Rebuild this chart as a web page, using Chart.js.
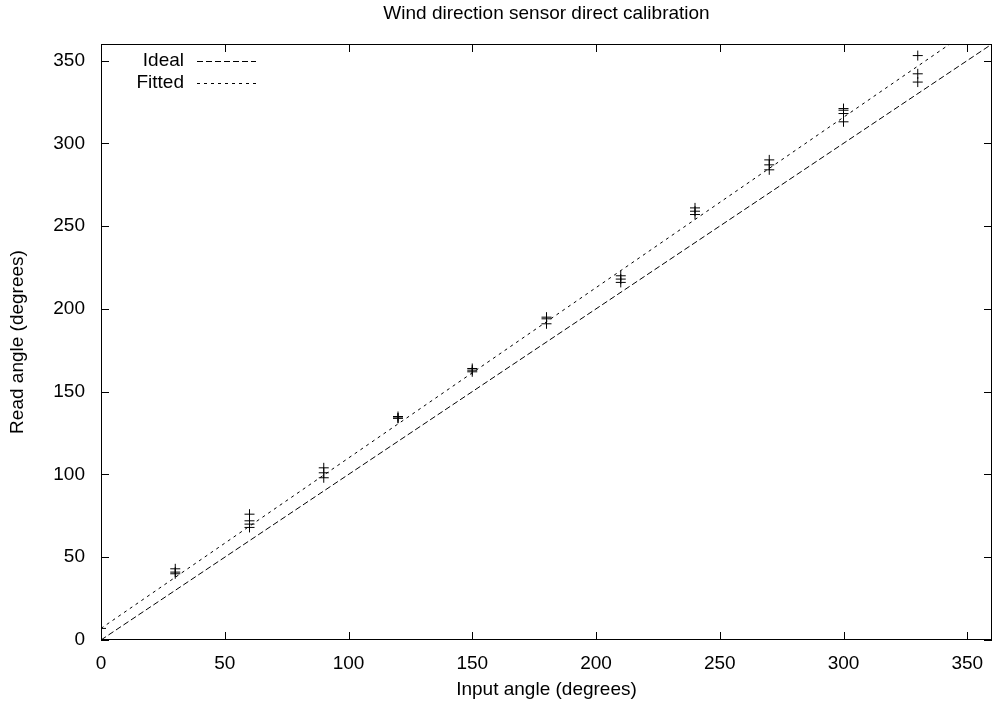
<!DOCTYPE html>
<html>
<head>
<meta charset="utf-8">
<title>Wind direction sensor direct calibration</title>
<script src="https://cdn.jsdelivr.net/npm/chart.js@4.4.0/dist/chart.umd.min.js"></script>
<style>
    html, body { margin: 0; padding: 0; background: #fff; }
    #wrap { width: 993px; height: 704px; }
</style>
</head>
<body>
<div id="wrap"><canvas id="calChart" width="993" height="704"></canvas></div>
<script>
// data
const inputAngles = [0, 30, 60, 90, 120, 150, 180, 210, 240, 270, 300, 330];
const readAngles = [
    [7],
    [43, 41, 40],
    [76, 72, 70, 68],
    [104, 101, 98],
    [135, 134, 134],
    [163, 162, 164],
    [195, 194, 191],
    [220, 218, 216],
    [261, 259, 257],
    [290, 287, 284],
    [321, 320, 318, 313],
    [353, 342, 337]
];
const idealX = [0, 360];
const idealY = [0, 360];
const fittedX = [0, 343];
const fittedY = [7, 360];
const tickValues = [0, 50, 100, 150, 200, 250, 300, 350];

const FONT = "'Liberation Sans', Arial, Helvetica, sans-serif";
const FONT_SIZE = 19;

// flatten the readings into points
let readings = [];
inputAngles.forEach((x, i) => {
    readAngles[i].forEach(y => readings.push({ x: x, y: y }));
});

function pairs(xs, ys) {
    return xs.map((x, i) => ({ x: x, y: ys[i] }));
}

// gnuplot style frame, inward ticks, titles and legend
const gnuplotFrame = {
    id: 'gnuplotFrame',
    afterDraw(chart) {
        const ctx = chart.ctx;
        const a = chart.chartArea;
        const xs = chart.scales.x;
        const ys = chart.scales.y;
        const len = 8;

        ctx.save();
        ctx.strokeStyle = '#000';
        ctx.lineWidth = 1;
        ctx.setLineDash([]);
        ctx.strokeRect(Math.round(a.left) + 0.5, Math.round(a.top) + 0.5,
            Math.round(a.right - a.left) - 1, Math.round(a.bottom - a.top) - 1);

        ctx.beginPath();
        tickValues.forEach(v => {
            const px = Math.round(xs.getPixelForValue(v)) + 0.5;
            ctx.moveTo(px, a.bottom);
            ctx.lineTo(px, a.bottom - len);
            ctx.moveTo(px, a.top);
            ctx.lineTo(px, a.top + len);
            const py = Math.round(ys.getPixelForValue(v)) + 0.5;
            ctx.moveTo(a.left, py);
            ctx.lineTo(a.left + len, py);
            ctx.moveTo(a.right, py);
            ctx.lineTo(a.right - len, py);
        });
        ctx.stroke();

        // titles
        ctx.fillStyle = '#000';
        ctx.font = FONT_SIZE + 'px ' + FONT;
        ctx.textAlign = 'center';
        ctx.textBaseline = 'middle';
        const cx = (a.left + a.right) / 2;
        ctx.fillText('Wind direction sensor direct calibration', cx, 14);
        ctx.fillText('Input angle (degrees)', cx, 690);
        ctx.save();
        ctx.translate(18, (a.top + a.bottom) / 2);
        ctx.rotate(-Math.PI / 2);
        ctx.fillText('Read angle (degrees)', 0, 0);
        ctx.restore();

        // legend
        const items = chart.data.datasets.filter(d => d.showLine);
        items.forEach((d, i) => {
            const y = 61 + i * 22;
            ctx.textAlign = 'right';
            ctx.fillText(d.label, 184, y);
            ctx.beginPath();
            ctx.setLineDash(d.borderDash);
            ctx.moveTo(197, y + 0.5);
            ctx.lineTo(256, y + 0.5);
            ctx.stroke();
        });
        ctx.restore();
    }
};

function noPadding(scale) {
    scale.paddingLeft = 0;
    scale.paddingRight = 0;
    scale.paddingTop = 0;
    scale.paddingBottom = 0;
}

new Chart(document.getElementById('calChart'), {
    type: 'scatter',
    data: {
        datasets: [
            {
                label: 'Ideal',
                data: pairs(idealX, idealY),
                showLine: true,
                borderColor: '#000',
                borderWidth: 1,
                borderDash: [6, 3],
                pointRadius: 0
            },
            {
                label: 'Fitted',
                data: pairs(fittedX, fittedY),
                showLine: true,
                borderColor: '#000',
                borderWidth: 1,
                borderDash: [3, 4],
                pointRadius: 0
            },
            {
                label: 'Readings',
                data: readings,
                showLine: false,
                pointStyle: 'cross',
                pointRadius: 5,
                borderColor: '#000',
                borderWidth: 1
            }
        ]
    },
    options: {
        responsive: false,
        animation: false,
        layout: { autoPadding: false, padding: { top: 44, right: 1, left: 0, bottom: 0 } },
        plugins: {
            legend: { display: false },
            title: { display: false },
            tooltip: { enabled: false }
        },
        scales: {
            x: {
                type: 'linear',
                min: 0,
                max: 360,
                afterFit(scale) { scale.height = 64; noPadding(scale); },
                afterBuildTicks(scale) { scale.ticks = tickValues.map(v => ({ value: v })); },
                grid: { display: false, drawTicks: false },
                border: { display: false },
                ticks: { color: '#000', padding: 12, maxRotation: 0, font: { family: FONT, size: FONT_SIZE } }
            },
            y: {
                type: 'linear',
                min: 0,
                max: 360,
                afterFit(scale) { scale.width = 101; noPadding(scale); },
                afterBuildTicks(scale) { scale.ticks = tickValues.map(v => ({ value: v })); },
                grid: { display: false, drawTicks: false },
                border: { display: false },
                ticks: { color: '#000', padding: 16, font: { family: FONT, size: FONT_SIZE } }
            }
        }
    },
    plugins: [gnuplotFrame]
});
</script>
</body>
</html>
